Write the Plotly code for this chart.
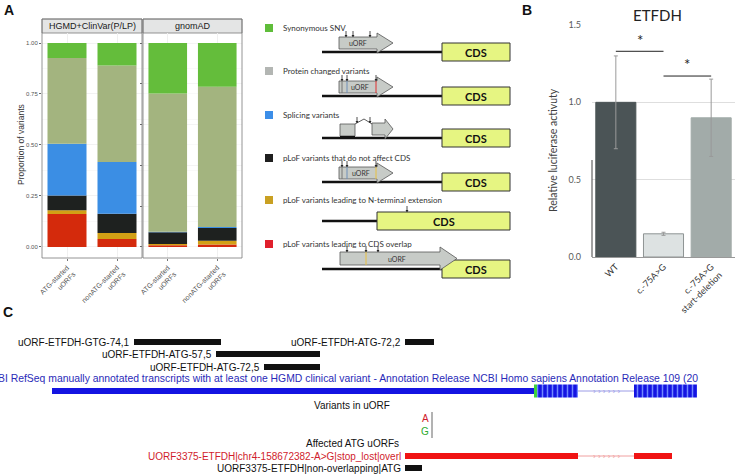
import plotly.graph_objects as go
import numpy as np

# ---------------- Panel A data ----------------
facets = ["HGMD+ClinVar(P/LP)", "gnomAD"]
uorf_types = ["ATG-started<br>uORFs", "nonATG-started<br>uORFs"]
# order of bars: HGMD ATG, HGMD nonATG, gnomAD ATG, gnomAD nonATG
cds_overlap = [0.162, 0.039, 0.008, 0.012]
nterm_ext = [0.018, 0.030, 0.007, 0.019]
plof_no_cds = [0.073, 0.094, 0.057, 0.062]
splicing = [0.253, 0.254, 0.003, 0.005]
protein_changed = [0.420, 0.473, 0.677, 0.688]
synonymous = [0.074, 0.110, 0.248, 0.214]
classes = ["pLoF variants leading to CDS overlap", "pLoF variants leading to N-terminal extension",
           "pLoF variants that do not affect CDS", "Splicing variants",
           "Protein changed variants", "Synonymous SNV"]
class_values = [cds_overlap, nterm_ext, plof_no_cds, splicing, protein_changed, synonymous]
bar_colors = ["#d42a0c", "#d2a015", "#1e211f", "#3b8ee4", "#a3b47f", "#64bd3b"]
legend_colors = ["#e0202c", "#c9a022", "#1f1f1f", "#3c8ee8", "#b3b6b3", "#5fbd3a"]
yticks_A = [0, 0.25, 0.5, 0.75, 1.0]

# ---------------- Panel B data ----------------
constructs = ["WT", "c.-75A>G", "c.-75A>G<br>start-deletion"]
luc_activity = [1.0, 0.15, 0.90]
luc_err = [0.30, 0.01, 0.25]
sig_pairs = [(0, 1), (1, 2)]
sig_heights = [1.33, 1.17]

# ---------------- Panel C data (track coordinates) ----------------
uorf_names = ["uORF-ETFDH-GTG-74,1", "uORF-ETFDH-ATG-72,2", "uORF-ETFDH-ATG-57,5", "uORF-ETFDH-ATG-72,5"]
uorf_start = [134, 405, 216, 264]
uorf_end = [221, 434, 320, 320]
uorf_row = [0, 0, 1, 2]
tx_utr = (52, 534)
tx_start_codon = (534, 537)
tx_exons = [(537, 578), (634, 697)]
affected_names = ["UORF3375-ETFDH|chr4-158672382-A>G|stop_lost|overl", "UORF3375-ETFDH|non-overlapping|ATG"]
affected_blocks = [[(405, 578), (634, 672)], [(405, 422)]]
variant_alleles = ["A", "G"]

W, H = 744, 476
fig = go.Figure()

# ---------- Panel A bars ----------
for f in range(2):
    xa = "x" if f == 0 else "x2"
    ya = "y" if f == 0 else "y2"
    base = np.zeros(2)
    for ci, vals in enumerate(class_values):
        v = np.array(vals[2 * f:2 * f + 2])
        fig.add_trace(go.Bar(x=uorf_types, y=v, base=base.copy(), xaxis=xa, yaxis=ya,
                             marker=dict(color=bar_colors[ci], line=dict(width=0)),
                             width=0.78, showlegend=False, hoverinfo="skip"))
        base = base + v

# ---------- Panel B bars ----------
fig.add_trace(go.Bar(x=constructs, y=luc_activity, xaxis="x3", yaxis="y3", width=0.84,
                     marker=dict(color=["#4b5456", "#dde2e2", "#a2aba9"],
                                 line=dict(color=["#4b5456", "#8e9494", "#a2aba9"], width=1)),
                     error_y=dict(type="data", array=luc_err, color="#9a9a9a", thickness=1, width=2),
                     showlegend=False, hoverinfo="skip"))

# ---------- Panel C tracks (x4/y4: pixel-like track coordinates) ----------
row_y = [342, 354, 367]
for name, s, e, r in zip(uorf_names, uorf_start, uorf_end, uorf_row):
    fig.add_trace(go.Bar(y=[row_y[r]], x=[e - s], base=[s], orientation="h", width=6,
                         xaxis="x4", yaxis="y4", marker=dict(color="#111111", line=dict(width=0)),
                         showlegend=False, hoverinfo="skip"))
# transcript
tx_y = 391
fig.add_trace(go.Bar(y=[tx_y], x=[tx_utr[1] - tx_utr[0]], base=[tx_utr[0]], orientation="h", width=6,
                     xaxis="x4", yaxis="y4", marker=dict(color="#1414e2", line=dict(width=0)),
                     showlegend=False, hoverinfo="skip"))
fig.add_trace(go.Bar(y=[tx_y], x=[tx_start_codon[1] - tx_start_codon[0]], base=[tx_start_codon[0]],
                     orientation="h", width=13, xaxis="x4", yaxis="y4",
                     marker=dict(color="#3ed23e", line=dict(width=0)), showlegend=False, hoverinfo="skip"))
for s, e in tx_exons:
    fig.add_trace(go.Bar(y=[tx_y], x=[e - s], base=[s], orientation="h", width=13, xaxis="x4", yaxis="y4",
                         marker=dict(color="#1414e2", line=dict(width=0),
                                     pattern=dict(shape="|", fgcolor="#6f86ff", bgcolor="#1414e2",
                                                  size=5, solidity=0.3)),
                         showlegend=False, hoverinfo="skip"))
aff_y = [456, 468]
aff_col = ["#f01414", "#111111"]
for i, blocks in enumerate(affected_blocks):
    for s, e in blocks:
        fig.add_trace(go.Bar(y=[aff_y[i]], x=[e - s], base=[s], orientation="h", width=6,
                             xaxis="x4", yaxis="y4", marker=dict(color=aff_col[i], line=dict(width=0)),
                             showlegend=False, hoverinfo="skip"))

shapes = []
ann = []

def px(x):
    return x / W

def py(y):
    return 1 - y / H

def pann(text, x, y, size, color, family="Liberation Sans, Arial", angle=0, xanchor="center"):
    ann.append(dict(text=text, x=px(x), y=py(y), xref="paper", yref="paper", showarrow=False,
                    xanchor=xanchor, yanchor="middle", textangle=angle,
                    font=dict(family=family, size=size, color=color)))

# ---------- Panel A decorations ----------
for (x0, x1), lab in zip([(42, 142), (143, 242)], facets):
    shapes.append(dict(type="rect", xref="paper", yref="paper", x0=px(x0), x1=px(x1), y0=py(33), y1=py(19),
                       fillcolor="#e4e5e5", line=dict(color="#7a7a7a", width=0.8), layer="below"))
    shapes.append(dict(type="rect", xref="paper", yref="paper", x0=px(x0), x1=px(x1), y0=py(258), y1=py(19),
                       fillcolor="rgba(0,0,0,0)", line=dict(color="#7a7a7a", width=0.8), layer="above"))
    pann(lab, (x0 + x1) / 2, 26, 9, "#1a1a1a")
pann("Proportion of variants", 21, 145, 8.5, "#333333", angle=-90)

# ---------- Panel A legend schematic ----------
label_y = [28, 71, 115, 158, 200, 244]
line_y = [52, 96, 138, 182, 221, 269]
legend_labels = classes[::-1]
legend_cols = legend_colors[::-1]
for i in range(6):
    ly = label_y[i]
    shapes.append(dict(type="rect", xref="x4", yref="y4", x0=265, x1=273, y0=ly - 4, y1=ly + 4,
                       fillcolor=legend_cols[i], line=dict(width=0)))
    ann.append(dict(text=legend_labels[i], x=281, y=ly, xref="x4", yref="y4", xanchor="left", showarrow=False,
                    font=dict(family="Lato, Open Sans", size=8, color="#333333")))

ARROW_FILL = "#c7cbc7"
ARROW_LINE = "#555555"

def arrow_path(x0, xh, xt, yt, yb, ht, hb):
    ym = (ht + hb) / 2
    return f"M{x0},{yt} L{xh},{yt} L{xh},{ht} L{xt},{ym} L{xh},{hb} L{xh},{yb} L{x0},{yb} Z"

def marker(x, ytip):
    shapes.append(dict(type="line", xref="x4", yref="y4", x0=x, x1=x, y0=ytip - 6, y1=ytip,
                       line=dict(color="#222", width=0.8)))
    shapes.append(dict(type="path", xref="x4", yref="y4",
                       path=f"M{x-1.5},{ytip-2} L{x+1.5},{ytip-2} L{x},{ytip} Z",
                       fillcolor="#222", line=dict(width=0)))

def cds_box(x0, x1, yc):
    shapes.append(dict(type="rect", xref="x4", yref="y4", x0=x0, x1=x1, y0=yc - 9, y1=yc + 9,
                       fillcolor="#e6f582", line=dict(color="#333333", width=1)))
    ann.append(dict(text="<b>CDS</b>", x=(x0 + x1) / 2, y=yc + 0.5, xref="x4", yref="y4", showarrow=False,
                    font=dict(family="Lato, Open Sans", size=11, color="#111111")))

def baseline(x1, yc):
    shapes.append(dict(type="line", xref="x4", yref="y4", x0=322, x1=x1, y0=yc, y1=yc,
                       line=dict(color="#111111", width=2.5)))

def uorf_arrow(x0, xh, xt, yc, label_x):
    shapes.append(dict(type="path", xref="x4", yref="y4",
                       path=arrow_path(x0, xh, xt, yc - 15, yc - 3, yc - 19, yc + 1),
                       fillcolor=ARROW_FILL, line=dict(color=ARROW_LINE, width=0.8)))
    if label_x is not None:
        ann.append(dict(text="uORF", x=label_x, y=yc - 9, xref="x4", yref="y4", showarrow=False,
                        font=dict(family="Lato, Open Sans", size=7, color="#333333")))

def vline(x, yc, col):
    shapes.append(dict(type="line", xref="x4", yref="y4", x0=x, x1=x, y0=yc - 15, y1=yc - 3,
                       line=dict(color=col, width=1)))

# row 0 synonymous
yc = line_y[0]
baseline(442, yc)
cds_box(442, 510, yc)
uorf_arrow(339, 377, 393, yc, 358)
for x in (346, 353, 370):
    marker(x, yc - 15)
# row 1 protein changed
yc = line_y[1]
baseline(442, yc)
cds_box(442, 510, yc)
uorf_arrow(339, 377, 393, yc, 360)
vline(342, yc, "#777777"); vline(347, yc, "#6f8fb8"); vline(376, yc, "#e03030")
for x in (342, 347, 376):
    marker(x, yc - 15)
# row 2 splicing
yc = line_y[2]
baseline(442, yc)
cds_box(442, 510, yc)
shapes.append(dict(type="rect", xref="x4", yref="y4", x0=340, x1=355, y0=yc - 14, y1=yc - 2,
                   fillcolor=ARROW_FILL, line=dict(color=ARROW_LINE, width=0.8)))
shapes.append(dict(type="line", xref="x4", yref="y4", x0=340, x1=355, y0=yc - 1, y1=yc - 1,
                   line=dict(color="#111", width=2)))
shapes.append(dict(type="path", xref="x4", yref="y4",
                   path=arrow_path(372, 385, 393, yc - 15, yc - 3, yc - 19, yc + 1),
                   fillcolor=ARROW_FILL, line=dict(color=ARROW_LINE, width=0.8)))
shapes.append(dict(type="path", xref="x4", yref="y4",
                   path=f"M355,{yc-14} L364,{yc-19} L372,{yc-14}",
                   line=dict(color="#333", width=0.8)))
for x in (357, 370):
    marker(x, yc - 15)
# row 3 pLoF not affecting CDS
yc = line_y[3]
baseline(442, yc)
cds_box(442, 510, yc)
uorf_arrow(339, 377, 393, yc, 361)
vline(342, yc, "#777777"); vline(347, yc, "#6f8fb8"); vline(376, yc, "#e8c040")
for x in (342, 347, 376):
    marker(x, yc - 15)
# row 4 N-terminal extension
yc = line_y[4]
baseline(377, yc)
cds_box(377, 510, yc)
marker(407, yc - 9)
# row 5 CDS overlap
yc = line_y[5]
baseline(442, yc)
cds_box(442, 510, yc)
shapes.append(dict(type="path", xref="x4", yref="y4",
                   path=arrow_path(340, 440, 457, yc - 17, yc - 4, yc - 22, yc + 1),
                   fillcolor=ARROW_FILL, line=dict(color=ARROW_LINE, width=0.8)))
ann.append(dict(text="uORF", x=397, y=yc - 10, xref="x4", yref="y4", showarrow=False,
                font=dict(family="Lato, Open Sans", size=7, color="#333333")))
shapes.append(dict(type="line", xref="x4", yref="y4", x0=366, x1=366, y0=yc - 17, y1=yc - 4,
                   line=dict(color="#e8c040", width=1)))
for x in (347, 366, 378):
    marker(x, yc - 17)

# ---------- Panel B decorations ----------
for (a, b), h in zip(sig_pairs, sig_heights):
    shapes.append(dict(type="line", xref="x3", yref="y3", x0=a, x1=b, y0=h, y1=h,
                       line=dict(color="#222222", width=1)))
    ann.append(dict(text="*", x=(a + b) / 2, y=h + 0.005, xref="x3", yref="y3", showarrow=False,
                    xanchor="center", yanchor="bottom", font=dict(family="Lato, Open Sans", size=15, color="#222")))
shapes.append(dict(type="line", xref="paper", yref="paper", x0=px(592), x1=px(592), y0=py(257), y1=py(160),
                   line=dict(color="#444444", width=1)))
pann("ETFDH", 657, 15, 15, "#222222", family="Lato, Open Sans")
pann("Relative luciferase activuty", 553, 150, 10.5, "#404040", family="Lato, Open Sans", angle=-90)

# ---------- Panel C decorations ----------
CF = "Liberation Sans, Arial"
for name, s, r in zip(uorf_names, uorf_start, uorf_row):
    ann.append(dict(text=name, x=s - 2, y=row_y[r], xref="x4", yref="y4", xanchor="right", showarrow=False,
                    font=dict(family=CF, size=10, color="#111111")))
ann.append(dict(text="BI RefSeq manually annotated transcripts with at least one HGMD clinical variant - "
                     "Annotation Release NCBI Homo sapiens Annotation Release 109 (20",
                x=700, y=378, xref="x4", yref="y4", xanchor="right", showarrow=False,
                font=dict(family=CF, size=10.4, color="#2a2ab8")))
# introns
shapes.append(dict(type="line", xref="x4", yref="y4", x0=578, x1=634, y0=tx_y, y1=tx_y,
                   line=dict(color="#9c9ce6", width=1)))
ann.append(dict(text="› › › › › ›", x=606, y=tx_y, xref="x4", yref="y4", showarrow=False,
                font=dict(family=CF, size=8, color="#9c9ce6")))
shapes.append(dict(type="line", xref="x4", yref="y4", x0=578, x1=634, y0=aff_y[0], y1=aff_y[0],
                   line=dict(color="#f0a0a0", width=1)))
ann.append(dict(text="› › › › › ›", x=606, y=aff_y[0], xref="x4", yref="y4", showarrow=False,
                font=dict(family=CF, size=8, color="#f0a0a0")))
ann.append(dict(text="Variants in uORF", x=352, y=405, xref="x4", yref="y4", showarrow=False,
                font=dict(family=CF, size=10, color="#111111")))
ann.append(dict(text=variant_alleles[0], x=431, y=418, xref="x4", yref="y4", xanchor="right", showarrow=False,
                font=dict(family=CF, size=10, color="#d01c2c")))
ann.append(dict(text=variant_alleles[1], x=431, y=431, xref="x4", yref="y4", xanchor="right", showarrow=False,
                font=dict(family=CF, size=10, color="#2eaa2e")))
shapes.append(dict(type="line", xref="x4", yref="y4", x0=432, x1=432, y0=412, y1=438,
                   line=dict(color="#666666", width=1)))
ann.append(dict(text="Affected ATG uORFs", x=352, y=443, xref="x4", yref="y4", showarrow=False,
                font=dict(family=CF, size=10, color="#111111")))
aff_text_col = ["#d01c2c", "#111111"]
for i, name in enumerate(affected_names):
    ann.append(dict(text=name, x=403, y=aff_y[i], xref="x4", yref="y4", xanchor="right", showarrow=False,
                    font=dict(family=CF, size=10, color=aff_text_col[i])))

# panel letters
for lab, x, y in [("A", 9, 10), ("B", 527, 10), ("C", 8, 312)]:
    pann(f"<b>{lab}</b>", x, y, 14, "#111111")

axA_y = dict(domain=[py(258), py(33)], range=[-0.054, 1.049], tickvals=yticks_A,
             ticktext=[f"{v:.2f}" for v in yticks_A], tickfont=dict(family="Liberation Sans", size=6, color="#555"),
             ticks="outside", ticklen=2, tickcolor="#666", showgrid=True, gridcolor="#ececec", gridwidth=0.6,
             zeroline=False, showline=False, automargin=False,
             minor=dict(showgrid=True, gridcolor="#f5f5f5", dtick=0.125, tick0=0))
axA_x = dict(tickangle=-45, tickfont=dict(family="Liberation Sans", size=7, color="#555"),
             showgrid=True, gridcolor="#f0f0f0", ticks="outside", ticklen=2, tickcolor="#777",
             showline=False, zeroline=False, range=[-0.5, 1.5], automargin=False)

fig.update_layout(
    template="none",
    width=W, height=H, margin=dict(l=0, r=0, t=0, b=0, pad=0), autosize=False,
    paper_bgcolor="white", plot_bgcolor="rgba(0,0,0,0)", barmode="overlay", showlegend=False,
    xaxis=dict(domain=[px(42), px(142)], anchor="y", **axA_x),
    xaxis2=dict(domain=[px(143), px(242)], anchor="y2", **axA_x),
    yaxis=dict(anchor="x", **axA_y),
    yaxis2=dict(anchor="x2", matches="y", **{k: v for k, v in axA_y.items() if k not in ("tickvals", "ticktext", "tickfont")},
                showticklabels=False),
    xaxis3=dict(domain=[px(592), px(735)], anchor="y3", range=[-0.5, 2.5], tickangle=-45,
                tickfont=dict(family="Lato, Open Sans", size=9, color="#333"), showline=True, linecolor="#999",
                linewidth=1, ticks="", showgrid=False, zeroline=False, automargin=False),
    yaxis3=dict(domain=[py(257), py(25)], anchor="x3", range=[0, 1.5], tickvals=[0, 0.5, 1.0, 1.5],
                ticktext=["0.0", "0.5", "1.0", "1.5"], tickfont=dict(family="Lato, Open Sans", size=9, color="#595959"),
                showgrid=True, gridcolor="#dedede", zeroline=False, showline=False, ticklabelstandoff=10,
                ticks="", automargin=False),
    xaxis4=dict(domain=[0, 1], range=[0, W], anchor="y4", visible=False, fixedrange=True, automargin=False),
    yaxis4=dict(domain=[0, 1], range=[H, 0], anchor="x4", visible=False, fixedrange=True, automargin=False),
    shapes=shapes, annotations=ann,
)

fig.write_html("out.html", config={"displayModeBar": False, "staticPlot": True},
               post_script="document.body.style.margin='0px';document.body.style.overflow='hidden';")
